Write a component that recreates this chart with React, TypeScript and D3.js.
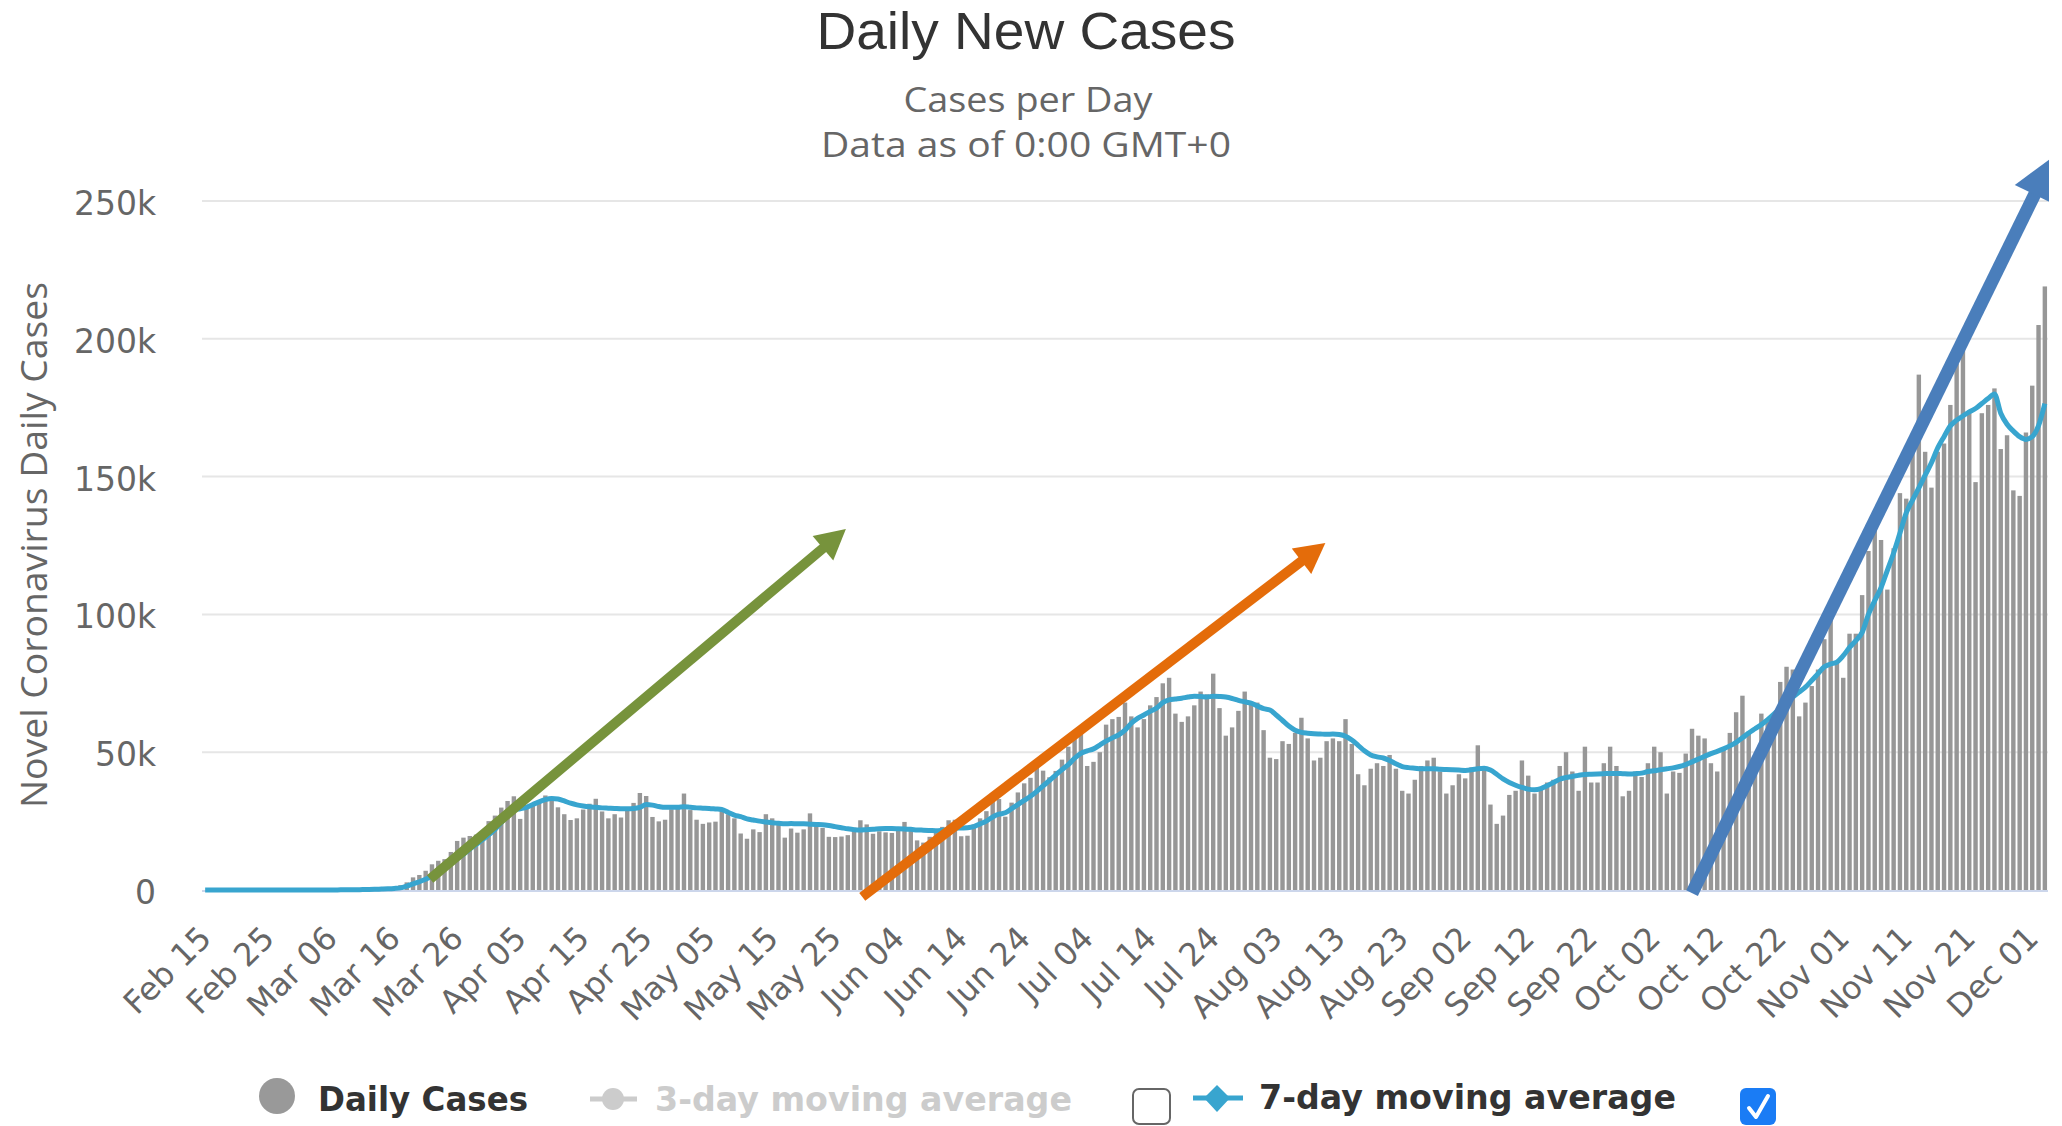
import React from 'react';
// @ts-ignore
import * as d3 from 'd3';

// daily new cases, Feb 15 - Dec 03 2020
const casesFeb = [0, 0, 0, 0, 0, 0, 1, 0, 0, 18, 0, 1, 0, 2, 8];
const casesMar = [8, 20, 22, 28, 70, 60, 105, 120, 200, 290, 290, 480, 560, 640, 820, 1100, 1760, 2770, 4580, 5450, 6980, 9320, 10600, 11200, 13800, 17800, 19000, 19600, 20100, 21400, 25000];
const casesApr = [27000, 29900, 32300, 34000, 25800, 30800, 31400, 32000, 34300, 33800, 30000, 27500, 25400, 26000, 29200, 31300, 33100, 28500, 26000, 27500, 26300, 28800, 31600, 35200, 34100, 26500, 24900, 25500, 29300, 29600];
const casesMay = [35000, 29000, 25500, 24000, 24500, 24800, 29000, 27500, 26000, 20500, 18600, 22000, 21000, 27500, 26000, 25000, 19000, 22300, 20800, 22000, 27800, 24000, 22500, 19300, 19200, 19400, 19900, 22600, 25300, 23800, 20400];
const casesJun = [21300, 20900, 20700, 22000, 24700, 22600, 18000, 17200, 19300, 21100, 22900, 25300, 25500, 19500, 19700, 23800, 26000, 28600, 32300, 33000, 26600, 31700, 35400, 38700, 40700, 45400, 43300, 40900, 43200, 47300];
const casesJul = [52000, 57200, 57200, 45000, 46500, 50000, 60000, 62000, 62800, 68000, 63000, 59000, 62000, 67000, 70000, 75000, 77000, 64000, 61000, 63000, 67000, 72000, 71000, 78500, 66000, 56000, 59000, 65000, 72000, 68000, 68000];
const casesAug = [58000, 48000, 47500, 54000, 53000, 57000, 62500, 55000, 47000, 48000, 54000, 55000, 54000, 62000, 53000, 42000, 38000, 44000, 46000, 45000, 49000, 44000, 36000, 35000, 40000, 45000, 47000, 48000, 43000, 35000, 38000];
const casesSep = [42000, 40500, 44500, 52500, 43500, 31000, 24000, 27000, 34500, 36000, 47000, 41500, 35000, 37000, 39000, 40000, 45000, 50000, 43000, 36000, 52000, 39000, 39000, 46000, 52000, 45000, 34000, 36000, 43000, 41000];
const casesOct = [46000, 52000, 50000, 35000, 43000, 42500, 49500, 58500, 56000, 55000, 46000, 43000, 51000, 57000, 64500, 70500, 57500, 48500, 64000, 61000, 62500, 75500, 81000, 80000, 63000, 68000, 74000, 80000, 91000, 101000, 83000];
const casesNov = [77000, 93000, 93000, 107000, 123000, 132000, 127000, 109000, 124000, 144000, 142000, 161000, 187000, 159000, 146000, 159000, 162000, 176000, 191000, 202000, 174000, 148000, 173000, 176000, 182000, 160000, 165000, 145000, 143000, 166000];
const casesDec = [183000, 205000, 219000];

// 7-day moving average
const avgFeb = [0, 0, 0, 0, 0, 0, 0, 0, 0, 3, 3, 3, 3, 3, 4];
const avgMar = [5, 7, 10, 13, 23, 31, 45, 60, 85, 120, 150, 200, 270, 350, 440, 570, 770, 1400, 2200, 3000, 3900, 5000, 6300, 7700, 9400, 11300, 13000, 14800, 16500, 18200, 20000];
const avgApr = [22000, 24500, 27000, 29000, 29500, 30000, 31000, 32000, 32800, 33200, 33000, 32300, 31500, 30900, 30500, 30200, 30000, 29800, 29700, 29600, 29500, 29500, 29600, 30000, 31000, 30800, 30300, 30000, 30000, 30000];
const avgMay = [30200, 30000, 29800, 29700, 29600, 29400, 29200, 28200, 27200, 26600, 25800, 25400, 25000, 24700, 24400, 24200, 24000, 24100, 24000, 24000, 23900, 23800, 23700, 23400, 23000, 22600, 22200, 21900, 21800, 21900, 22000];
const avgJun = [22200, 22300, 22300, 22200, 22100, 22000, 21800, 21700, 21600, 21500, 21700, 22000, 22400, 22500, 22600, 23000, 24000, 25000, 26500, 27500, 28000, 29500, 31000, 32500, 34000, 35800, 37800, 39700, 41700, 43700];
const avgJul = [45500, 47800, 49600, 50500, 51200, 52600, 54000, 55200, 56300, 58000, 60500, 62300, 63500, 64800, 66000, 68000, 69000, 69300, 69600, 70000, 70300, 70200, 70000, 70300, 70200, 70000, 69500, 68800, 68300, 67800, 66800];
const avgAug = [65800, 65300, 63500, 61500, 59500, 58000, 57200, 56900, 56700, 56600, 56500, 56600, 56400, 55800, 54400, 52500, 50500, 49000, 48300, 47900, 47000, 45800, 44800, 44400, 44200, 44000, 44000, 44000, 43800, 43700, 43600];
const avgSep = [43500, 43400, 43600, 44000, 44200, 43500, 42000, 40300, 39000, 38000, 37200, 36600, 36400, 36800, 37800, 39000, 40200, 40800, 41200, 41600, 41900, 42000, 42100, 42200, 42300, 42300, 42200, 42100, 42200, 42400];
const avgOct = [43000, 43300, 43600, 44000, 44300, 44800, 45500, 46500, 47500, 48500, 49500, 50300, 51200, 52300, 53600, 55200, 57000, 58500, 60000, 61800, 63800, 66000, 68200, 70000, 71800, 73600, 76000, 78500, 81000, 82000, 82700];
const avgNov = [85000, 88000, 90500, 93500, 100000, 105000, 109700, 116000, 122300, 129500, 136800, 141500, 145900, 150500, 155000, 160400, 164500, 168400, 170500, 172000, 173500, 174700, 176500, 178300, 180000, 173000, 169000, 166500, 164500, 163500];
const avgDec = [164500, 168500, 176500];

const tickLabels = [
  'Feb 15', 'Feb 25', 'Mar 06', 'Mar 16', 'Mar 26', 'Apr 05', 'Apr 15', 'Apr 25', 'May 05', 'May 15',
  'May 25', 'Jun 04', 'Jun 14', 'Jun 24', 'Jul 04', 'Jul 14', 'Jul 24', 'Aug 03', 'Aug 13', 'Aug 23',
  'Sep 02', 'Sep 12', 'Sep 22', 'Oct 02', 'Oct 12', 'Oct 22', 'Nov 01', 'Nov 11', 'Nov 21', 'Dec 01',
];
const tickStep = 10; // days between labels
const yTicks = [0, 50000, 100000, 150000, 200000, 250000];

// annotation arrows, in (day index, cases)
const arrows = [
  { from: [35.7, 4000], to: [101.7, 131000], color: '#77933c', w: 10, len: 30, half: 16 },
  { from: [104.3, -2500], to: [177.8, 125900], color: '#e46c0a', w: 10, len: 30, half: 16 },
  { from: [236, -1100], to: [293.3, 266000], color: '#4a7ebb', w: 13, len: 42, half: 22 },
];

const dailyCases = [...casesFeb, ...casesMar, ...casesApr, ...casesMay, ...casesJun, ...casesJul, ...casesAug, ...casesSep, ...casesOct, ...casesNov, ...casesDec];
const movingAvg = [...avgFeb, ...avgMar, ...avgApr, ...avgMay, ...avgJun, ...avgJul, ...avgAug, ...avgSep, ...avgOct, ...avgNov, ...avgDec];

const W = 2062;
const H = 1126;
const margin = { top: 201, right: W - 2048, bottom: H - 890, left: 202 };

const useD3 = (renderChartFn: Function, deps: Array<unknown>) => {
  const ref = React.useRef();
  React.useEffect(() => {
    renderChartFn(d3.select(ref.current));
  }, deps); // eslint-disable-line
  return ref;
};

function Chart() {
  const ref = useD3(
    // @ts-ignore
    (svg) => {
      svg.selectAll('*').remove();
      const n = dailyCases.length;

      const x = d3
        .scaleBand()
        .domain(d3.range(n))
        .range([margin.left, W - margin.right])
        .paddingInner(0.3)
        .paddingOuter(0.15);
      // continuous version for lines/labels/arrows
      const xi = d3.scaleLinear().domain([-0.5, n - 0.5]).range([margin.left, W - margin.right]);
      const y = d3.scaleLinear().domain([0, 250000]).range([H - margin.bottom, margin.top]);

      // grid
      svg
        .append('g')
        .selectAll('line')
        .data(yTicks.filter((d) => d > 0))
        .join('line')
        .attr('x1', margin.left)
        .attr('x2', W - margin.right)
        .attr('y1', (d: number) => y(d))
        .attr('y2', (d: number) => y(d))
        .attr('stroke', '#e6e6e6')
        .attr('stroke-width', 2);

      svg
        .append('g')
        .selectAll('text')
        .data(yTicks)
        .join('text')
        .attr('x', 156)
        .attr('y', (d: number) => y(d) + 14)
        .attr('text-anchor', 'end')
        .attr('fill', '#666')
        .style('font', '33px "DejaVu Sans"')
        .text((d: number) => (d === 0 ? '0' : `${d / 1000}k`));

      // bars
      svg
        .append('g')
        .attr('fill', '#979797')
        .selectAll('rect')
        .data(dailyCases)
        .join('rect')
        .attr('x', (_d: number, i: number) => x(i))
        .attr('width', x.bandwidth())
        .attr('y', (d: number) => y(d))
        .attr('height', (d: number) => y(0) - y(d));

      // x axis line
      svg
        .append('line')
        .attr('x1', margin.left)
        .attr('x2', W - margin.right)
        .attr('y1', y(0) + 1)
        .attr('y2', y(0) + 1)
        .attr('stroke', '#ccd6eb')
        .attr('stroke-width', 2);

      // moving average
      const line = d3
        .line()
        .x((_d: number, i: number) => xi(i))
        .y((d: number) => y(d))
        .curve(d3.curveMonotoneX);
      svg
        .append('path')
        .datum(movingAvg)
        .attr('d', line)
        .attr('fill', 'none')
        .attr('stroke', '#38a5cf')
        .attr('stroke-width', 5)
        .attr('stroke-linejoin', 'round');

      // x tick labels
      svg
        .append('g')
        .selectAll('text')
        .data(tickLabels)
        .join('text')
        .attr('transform', (_d: string, i: number) => `translate(${xi(i * tickStep) + 8},${y(0) + 50}) rotate(-45)`)
        .attr('text-anchor', 'end')
        .attr('fill', '#666')
        .style('font', '32px "DejaVu Sans"')
        .text((d: string) => d);

      // arrows
      svg
        .append('clipPath')
        .attr('id', 'clipArrows')
        .append('rect')
        .attr('x', 0)
        .attr('y', 0)
        .attr('width', 2049)
        .attr('height', H);
      const ga = svg.append('g').attr('clip-path', 'url(#clipArrows)');
      arrows.forEach((a) => {
        const x0 = xi(a.from[0]);
        const y0 = y(a.from[1]);
        const x1 = xi(a.to[0]);
        const y1 = y(a.to[1]);
        const L = Math.hypot(x1 - x0, y1 - y0);
        const ux = (x1 - x0) / L;
        const uy = (y1 - y0) / L;
        const bx = x1 - ux * a.len;
        const by = y1 - uy * a.len;
        ga.append('line')
          .attr('x1', x0)
          .attr('y1', y0)
          .attr('x2', bx + ux * 2)
          .attr('y2', by + uy * 2)
          .attr('stroke', a.color)
          .attr('stroke-width', a.w);
        ga.append('path')
          .attr('d', `M${x1},${y1}L${bx - uy * a.half},${by + ux * a.half}L${bx + uy * a.half},${by - ux * a.half}Z`)
          .attr('fill', a.color);
      });

      // titles
      svg
        .append('text')
        .attr('x', 1026)
        .attr('y', 49)
        .attr('text-anchor', 'middle')
        .attr('fill', '#333')
        .attr('textLength', 419)
        .attr('lengthAdjust', 'spacingAndGlyphs')
        .style('font', '51px "Liberation Sans"')
        .text('Daily New Cases');
      svg
        .append('text')
        .attr('x', 1028)
        .attr('y', 112)
        .attr('text-anchor', 'middle')
        .attr('fill', '#666')
        .attr('textLength', 249)
        .attr('lengthAdjust', 'spacingAndGlyphs')
        .style('font', '35px "Open Sans"')
        .text('Cases per Day');
      svg
        .append('text')
        .attr('x', 1026)
        .attr('y', 157)
        .attr('text-anchor', 'middle')
        .attr('fill', '#666')
        .attr('textLength', 410)
        .attr('lengthAdjust', 'spacingAndGlyphs')
        .style('font', '35px "Open Sans"')
        .text('Data as of 0:00 GMT+0');
      svg
        .append('text')
        .attr('transform', 'translate(47,545) rotate(-90)')
        .attr('text-anchor', 'middle')
        .attr('fill', '#666')
        .attr('textLength', 526)
        .attr('lengthAdjust', 'spacingAndGlyphs')
        .style('font', '37px "Open Sans"')
        .text('Novel Coronavirus Daily Cases');

      // legend
      const lg = svg.append('g').style('font', 'bold 33px "DejaVu Sans"');
      lg.append('circle').attr('cx', 277).attr('cy', 1096).attr('r', 18).attr('fill', '#999');
      lg.append('text').attr('x', 318).attr('y', 1111).attr('fill', '#333')
        .attr('textLength', 210).attr('lengthAdjust', 'spacingAndGlyphs').text('Daily Cases');

      lg.append('line').attr('x1', 590).attr('x2', 637).attr('y1', 1099).attr('y2', 1099)
        .attr('stroke', '#ccc').attr('stroke-width', 5);
      lg.append('circle').attr('cx', 613).attr('cy', 1099).attr('r', 11).attr('fill', '#ccc');
      lg.append('text').attr('x', 655).attr('y', 1111).attr('fill', '#ccc')
        .attr('textLength', 417).attr('lengthAdjust', 'spacingAndGlyphs').text('3-day moving average');
      lg.append('rect').attr('x', 1133).attr('y', 1089).attr('width', 37).attr('height', 35).attr('rx', 6)
        .attr('fill', '#fff').attr('stroke', '#666').attr('stroke-width', 2);

      lg.append('line').attr('x1', 1193).attr('x2', 1243).attr('y1', 1098).attr('y2', 1098)
        .attr('stroke', '#38a5cf').attr('stroke-width', 5);
      lg.append('path').attr('d', 'M1217,1085L1230,1098L1217,1112L1204,1098Z').attr('fill', '#38a5cf');
      lg.append('text').attr('x', 1259).attr('y', 1109).attr('fill', '#333')
        .attr('textLength', 417).attr('lengthAdjust', 'spacingAndGlyphs').text('7-day moving average');
      lg.append('rect').attr('x', 1740).attr('y', 1088).attr('width', 36).attr('height', 37).attr('rx', 6)
        .attr('fill', '#1a7cf5');
      lg.append('path').attr('d', 'M1749,1108L1756,1117L1768,1096')
        .attr('fill', 'none').attr('stroke', '#fff').attr('stroke-width', 4)
        .attr('stroke-linecap', 'round').attr('stroke-linejoin', 'round');
    },
    []
  );

  return (
    <svg
      // @ts-ignore
      ref={ref}
      width={W}
      height={H}
      style={{ position: 'absolute', left: 0, top: 0, background: '#fff' }}
    />
  );
}

export default function App() {
  return <Chart />;
}
